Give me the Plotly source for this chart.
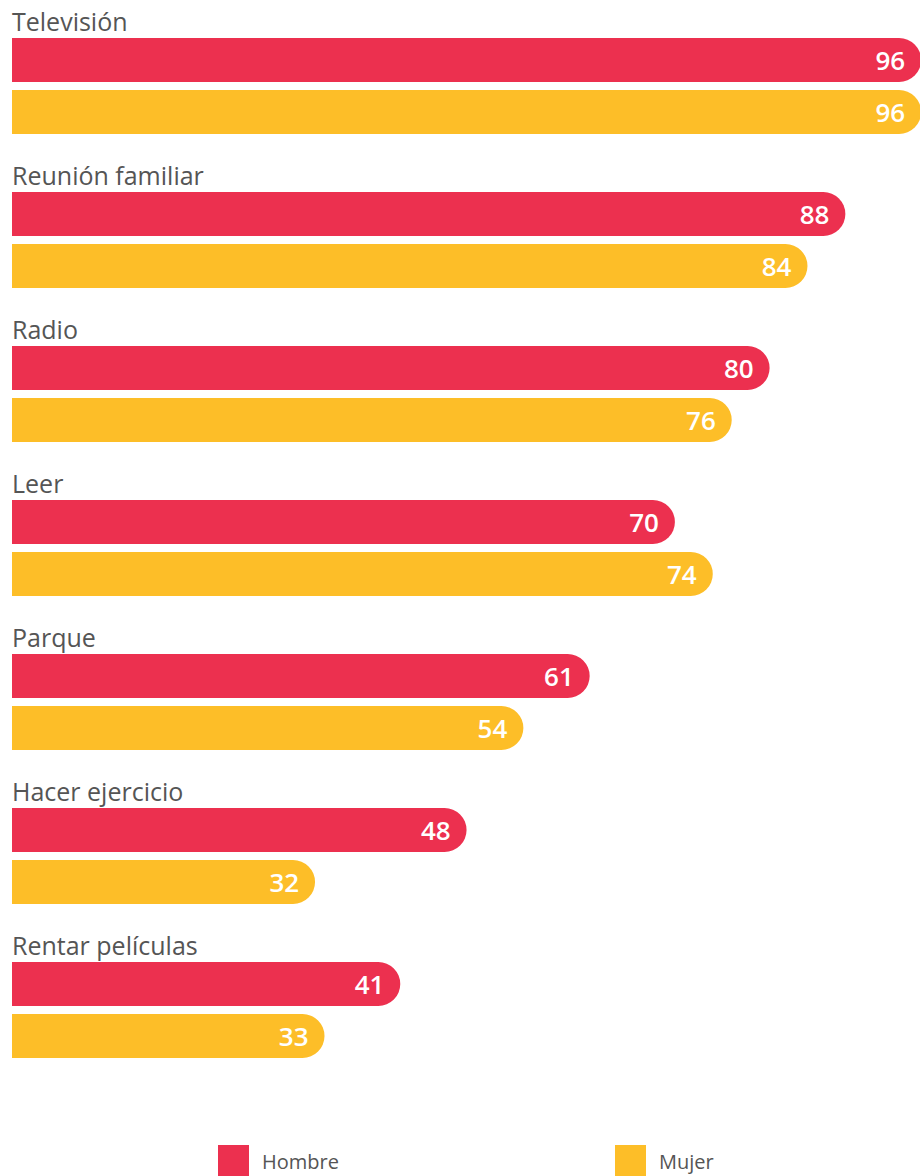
import plotly.graph_objects as go

categories = ["Televisión", "Reunión familiar", "Radio", "Leer", "Parque",
              "Hacer ejercicio", "Rentar películas"]
hombre = [96, 88, 80, 70, 61, 48, 41]
mujer = [96, 84, 76, 74, 54, 32, 33]

RED = "#EC304F"
YELLOW = "#FDBE28"
TEXT = "#555555"
FONT = "Open Sans"

W, H = 920, 1176
pitch = 154.0           # px between groups
top0 = 60.0             # px of first red bar center
off = 52.0 / pitch      # red -> yellow offset in group units
bw = 44.0 / pitch       # bar thickness in group units
pxu = 9.47              # px per value unit
x0px = 12.0

idx = list(range(len(categories)))
y_h = [i for i in idx]
y_m = [i + off for i in idx]

vfont = dict(family=FONT, size=26, color="white", weight=600)

fig = go.Figure()
fig.add_trace(go.Bar(
    x=hombre, y=y_h, orientation="h", width=bw, name="Hombre",
    marker=dict(color=RED, cornerradius=22, line=dict(width=0)),
    text=[str(v) for v in hombre], textposition="inside", insidetextanchor="end",
    textfont=vfont, showlegend=False, hoverinfo="skip",
))
fig.add_trace(go.Bar(
    x=mujer, y=y_m, orientation="h", width=bw, name="Mujer",
    marker=dict(color=YELLOW, cornerradius=22, line=dict(width=0)),
    text=[str(v) for v in mujer], textposition="inside", insidetextanchor="end",
    textfont=vfont, showlegend=False, hoverinfo="skip",
))

for i, c in enumerate(categories):
    fig.add_annotation(x=0, y=i - 39.0 / pitch, xref="x", yref="y",
                       text=c, showarrow=False, xanchor="left", yanchor="middle",
                       xshift=-2,
                       font=dict(family=FONT, size=25, color=TEXT))

# legend (manual)
def px2py(p):
    return 1 - p / H

for sx, label, col in [(218, "Hombre", RED), (615, "Mujer", YELLOW)]:
    fig.add_shape(type="rect", xref="paper", yref="paper",
                  x0=sx / W, x1=(sx + 31) / W, y0=px2py(1145), y1=px2py(1176),
                  fillcolor=col, line=dict(width=0))
    fig.add_annotation(x=(sx + 42) / W, y=px2py(1161), xref="paper", yref="paper",
                       text=label, showarrow=False, xanchor="left", yanchor="middle",
                       font=dict(family=FONT, size=20, color=TEXT))

fig.update_layout(
    width=W, height=H, margin=dict(l=0, r=0, t=0, b=0),
    paper_bgcolor="white", plot_bgcolor="white",
    barmode="overlay", uniformtext=dict(mode=False),
    xaxis=dict(range=[-x0px / pxu, (W - x0px) / pxu], visible=False, fixedrange=True),
    yaxis=dict(range=[(H - top0) / pitch, -top0 / pitch], visible=False, fixedrange=True),
)

fig.write_html("out.html", config={"displayModeBar": False},
               post_script="document.body.style.margin='0px';document.body.style.overflow='hidden';")
